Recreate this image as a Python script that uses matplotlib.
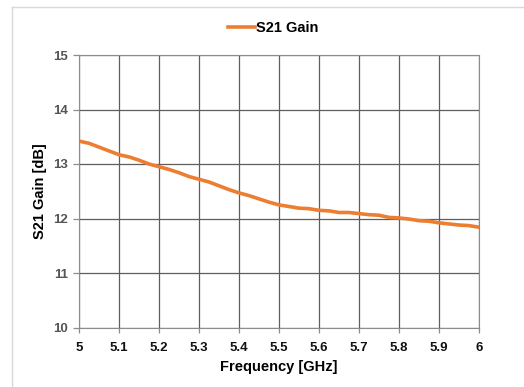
import matplotlib.pyplot as plt
from matplotlib.lines import Line2D

# S21 gain sweep, 5-6 GHz
freq_ghz = [5.000, 5.025, 5.050, 5.075, 5.100, 5.125, 5.150, 5.175, 5.200, 5.225,
            5.250, 5.275, 5.300, 5.325, 5.350, 5.375, 5.400, 5.425, 5.450, 5.475,
            5.500, 5.525, 5.550, 5.575, 5.600, 5.625, 5.650, 5.675, 5.700, 5.725,
            5.750, 5.775, 5.800, 5.825, 5.850, 5.875, 5.900, 5.925, 5.950, 5.975,
            6.000]
s21_gain_db = [13.42, 13.38, 13.31, 13.24, 13.17, 13.13, 13.07, 13.00, 12.95, 12.90,
               12.84, 12.77, 12.72, 12.67, 12.60, 12.53, 12.47, 12.42, 12.36, 12.30,
               12.25, 12.22, 12.19, 12.18, 12.15, 12.14, 12.11, 12.11, 12.09, 12.07,
               12.06, 12.02, 12.01, 11.99, 11.96, 11.95, 11.92, 11.90, 11.88, 11.87,
               11.84]
x_ticks = [5, 5.1, 5.2, 5.3, 5.4, 5.5, 5.6, 5.7, 5.8, 5.9, 6]
x_tick_labels = ["5", "5.1", "5.2", "5.3", "5.4", "5.5", "5.6", "5.7", "5.8", "5.9", "6"]
y_ticks = [10, 11, 12, 13, 14, 15]

plt.rcParams['font.family'] = ['Liberation Sans', 'DejaVu Sans']

fig = plt.figure(figsize=(5.24, 3.87), dpi=100)
ax = fig.add_axes([79 / 524, 1 - 327.5 / 387, 400 / 524, 272.5 / 387])

# thin chart-area frame (top and left edges visible)
fig.add_artist(Line2D([12 / 524, 12 / 524], [-0.1, 1 - 7 / 387], transform=fig.transFigure,
                      color='#d9d9d9', lw=1))
fig.add_artist(Line2D([12 / 524, 1.1], [1 - 7 / 387, 1 - 7 / 387], transform=fig.transFigure,
                      color='#d9d9d9', lw=1))

ax.plot(freq_ghz, s21_gain_db, color='#ED7D31', lw=2.6, label='S21 Gain')

ax.set_xlim(5, 6)
ax.set_ylim(10, 15)
ax.set_xticks(x_ticks)
ax.set_xticklabels(x_tick_labels)
ax.set_yticks(y_ticks)
ax.grid(True, color='#5e5e5e', lw=0.9)
for side in ['left', 'right', 'top', 'bottom']:
    ax.spines[side].set_color('#8c8c8c')
ax.tick_params(axis='both', width=0.9, color='#8c8c8c', labelsize=9.5)
ax.tick_params(axis='x', length=3.5, pad=7, labelcolor='#111111')
ax.tick_params(axis='y', length=4.3, pad=3.5, labelcolor='#555555')
for lbl in ax.get_xticklabels() + ax.get_yticklabels():
    lbl.set_fontweight('bold')

ax.set_xlabel('Frequency [GHz]', fontsize=10.5, fontweight='bold', va='center')
ax.set_ylabel('S21 Gain [dB]', fontsize=10.5, fontweight='bold', va='center')
ax.xaxis.set_label_coords(0.5, -(367 - 327.5) / 272.5)
ax.yaxis.set_label_coords((40 - 79) / 400, 0.5)

fig.legend(loc='center', bbox_to_anchor=(273 / 524, 1 - 28 / 387), frameon=False,
           prop={'size': 10.5, 'weight': 'bold'}, handlelength=1.9, handletextpad=0.05)

fig.savefig('out.png', dpi=100)
